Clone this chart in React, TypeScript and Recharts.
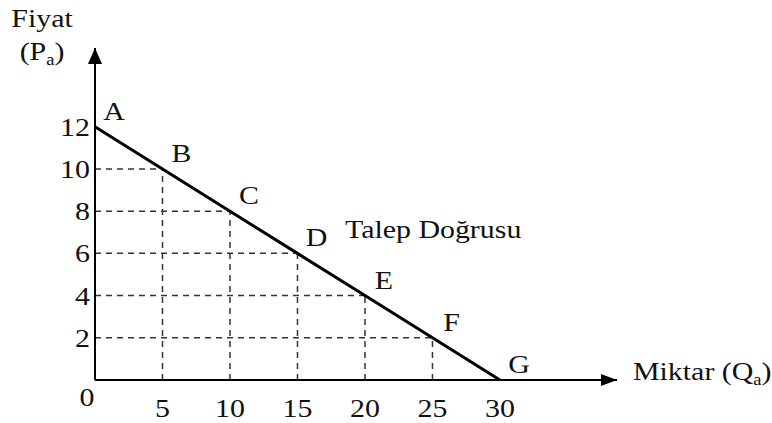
import { ComposedChart, Line, XAxis, YAxis, ReferenceLine, ReferenceDot, LabelList, Label } from "recharts";

const quantity = [0, 5, 10, 15, 20, 25, 30];
const price = [12, 10, 8, 6, 4, 2, 0];
const pointNames = ["A", "B", "C", "D", "E", "F", "G"];
const xTicks = [0, 5, 10, 15, 20, 25, 30];
const yTicks = [2, 4, 6, 8, 10, 12];

const X_MAX = 38.67;
const Y_MAX = 15.73;
const FONT = "'Liberation Serif', 'Times New Roman', serif";
const INK = "#111";
const STRETCH = 1.15;

const rows = quantity.map((q, i) => ({ q, p: price[i], name: pointNames[i] }));

// the source picture is slightly wider than tall, so text gets a horizontal stretch
function SText({ x, y, anchor = "start", children }: any) {
  return (
    <text
      transform={`translate(${x},${y}) scale(${STRETCH},1)`}
      textAnchor={anchor}
      fontFamily={FONT}
      fontSize={26}
      fill={INK}
    >
      {children}
    </text>
  );
}

function XTick(props: any) {
  const { x, y, payload } = props;
  if (payload.value === 0) return <SText x={x - 8} y={y + 26} anchor="middle">0</SText>;
  return <SText x={x} y={y + 37} anchor="middle">{payload.value}</SText>;
}

function YTick(props: any) {
  const { y, payload } = props;
  return <SText x={90} y={y + 9} anchor="end">{payload.value}</SText>;
}

function PointLabel(props: any) {
  const { x, y, value } = props;
  return <SText x={x + 19} y={y - 7} anchor="middle">{value}</SText>;
}

function UpArrow(props: any) {
  const { cx, cy } = props;
  return <path d={`M${cx},${cy} L${cx - 7},${cy + 16} L${cx + 7},${cy + 16} Z`} fill="#000" />;
}

function RightArrow(props: any) {
  const { cx, cy } = props;
  return <path d={`M${cx},${cy} L${cx - 16},${cy - 6} L${cx - 16},${cy + 6} Z`} fill="#000" />;
}

export default function App() {
  return (
    <div style={{ position: "absolute", left: 0, top: 0, background: "#fff" }}>
      <ComposedChart
        width={772}
        height={423}
        data={rows}
        margin={{ top: 48, right: 155, bottom: 13, left: 35 }}
      >
        <XAxis
          type="number"
          dataKey="q"
          domain={[0, X_MAX]}
          ticks={xTicks}
          allowDataOverflow
          height={30}
          tickLine={false}
          tickSize={0}
          tickMargin={0}
          axisLine={{ stroke: "#000", strokeWidth: 2 }}
          tick={<XTick />}
        >
          <Label
            content={() => (
              <SText x={633} y={380}>
                Miktar (Q<tspan fontSize={16} dy={5}>a</tspan><tspan dy={-5}>)</tspan>
              </SText>
            )}
          />
        </XAxis>
        <YAxis
          type="number"
          domain={[0, Y_MAX]}
          ticks={yTicks}
          allowDataOverflow
          width={60}
          tickLine={false}
          tickSize={0}
          tickMargin={0}
          axisLine={{ stroke: "#000", strokeWidth: 2 }}
          tick={<YTick />}
        >
          <Label
            content={() => (
              <g>
                <SText x={42} y={27} anchor="middle">Fiyat</SText>
                <SText x={42} y={60} anchor="middle">
                  (P<tspan fontSize={16} dy={5}>a</tspan><tspan dy={-5}>)</tspan>
                </SText>
              </g>
            )}
          />
        </YAxis>

        {quantity.map((q, i) =>
          i > 0 && i < quantity.length - 1 ? (
            <ReferenceLine
              key={`h${i}`}
              segment={[{ x: 0, y: price[i] }, { x: q, y: price[i] }]}
              stroke="#333"
              strokeWidth={1.5}
              strokeDasharray="6 5"
            />
          ) : null
        )}
        {quantity.map((q, i) =>
          i > 0 && i < quantity.length - 1 ? (
            <ReferenceLine
              key={`v${i}`}
              segment={[{ x: q, y: 0 }, { x: q, y: price[i] }]}
              stroke="#333"
              strokeWidth={1.5}
              strokeDasharray="6 5"
            />
          ) : null
        )}

        <Line
          type="linear"
          dataKey="p"
          stroke="#000"
          strokeWidth={3}
          dot={false}
          isAnimationActive={false}
        >
          <LabelList dataKey="name" content={<PointLabel />} />
        </Line>

        <ReferenceDot
          x={18.7}
          y={6.15}
          r={0}
          ifOverflow="visible"
          label={{ content: () => <SText x={345} y={238}>Talep Doğrusu</SText> }}
        />

        <ReferenceDot x={0} y={Y_MAX} r={0} ifOverflow="visible" shape={<UpArrow />} />
        <ReferenceDot x={X_MAX} y={0} r={0} ifOverflow="visible" shape={<RightArrow />} />
      </ComposedChart>
    </div>
  );
}
